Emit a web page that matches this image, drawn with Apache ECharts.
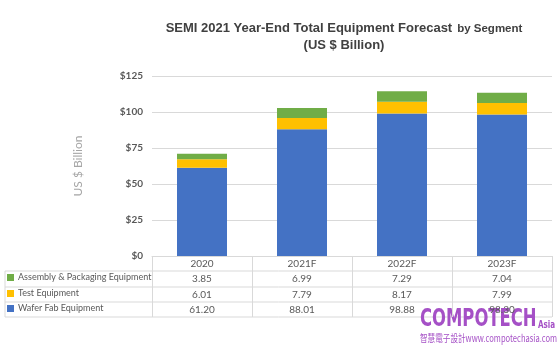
<!DOCTYPE html>
<html>
<head>
<meta charset="utf-8">
<script src="https://cdn.jsdelivr.net/npm/echarts@6/dist/echarts.min.js"></script>
<style>
  html, body { margin: 0; padding: 0; background: #fff; }
  #chart { width: 560px; height: 350px; }
</style>
</head>
<body>
<div id="chart"></div>
<script>
var years = ['2020', '2021F', '2022F', '2023F']
var assembly = [3.85, 6.99, 7.29, 7.04]
var test = [6.01, 7.79, 8.17, 7.99]
var wafer = [61.20, 88.01, 98.88, 98.30]
var names = ['Assembly & Packaging Equipment', 'Test Equipment', 'Wafer Fab Equipment']
var colors = ['#70AD47', '#FFC000', '#4472C4']

var lineColor = '#d9d9d9'
var txtColor = '#595959'
var font = 'Lato'

function fmt (arr) {
  var out = []
  for (var i in arr) {
    out.push(arr[i].toFixed(2))
  }
  return out
}

// one extra x axis per table row, under the main axis
function rowAxis (vals, off) {
  return {
    type: 'category',
    position: 'bottom',
    offset: off,
    data: fmt(vals),
    axisLine: { show: false },
    axisTick: { show: false },
    axisLabel: { color: txtColor, fontSize: 10, fontFamily: font, margin: 2 }
  }
}

function legendRow (name, top) {
  return {
    data: [name],
    left: 7,
    top: top,
    padding: 0,
    icon: 'rect',
    itemWidth: 7,
    itemHeight: 7,
    itemGap: 4,
    selectedMode: false,
    textStyle: { color: txtColor, fontSize: 9, fontFamily: font, padding: [0, 0, 0, -1] }
  }
}

function hline (y) {
  return { type: 'line', shape: { x1: 5, y1: y, x2: 552, y2: y }, style: { stroke: lineColor, lineWidth: 1 } }
}

var chart = echarts.init(document.getElementById('chart'))

var option = {
  animation: false,
  title: {
    text: '{a|SEMI 2021 Year-End Total Equipment Forecast} {b|by Segment}\n{a|(US $ Billion)}',
    left: 339,
    textAlign: 'center',
    top: 14,
    textStyle: {
      rich: {
        a: { fontSize: 13, fontWeight: 'bold', color: '#404040', fontFamily: 'Liberation Sans', lineHeight: 16 },
        b: { fontSize: 11.5, fontWeight: 'bold', color: '#404040', fontFamily: 'Liberation Sans', lineHeight: 16, padding: [2, 0, 0, 0] }
      }
    }
  },
  legend: [
    legendRow(names[0], 273),
    legendRow(names[1], 289),
    legendRow(names[2], 304)
  ],
  grid: { left: 152, right: 8, top: 76, bottom: 94 },
  xAxis: [
    {
      type: 'category',
      data: years,
      axisLine: { lineStyle: { color: lineColor } },
      axisTick: { show: true, length: 61, lineStyle: { color: lineColor } },
      axisLabel: { color: txtColor, fontSize: 10, fontFamily: font, margin: 3 }
    },
    rowAxis(assembly, 16),
    rowAxis(test, 32),
    rowAxis(wafer, 47)
  ],
  yAxis: {
    type: 'value',
    min: 0,
    max: 125,
    interval: 25,
    name: 'US $ Billion',
    nameLocation: 'middle',
    nameRotate: 90,
    nameGap: 68,
    nameTextStyle: { color: '#a6a6a6', fontSize: 12, fontFamily: 'Lato' },
    axisLine: { show: false },
    axisTick: { show: false },
    axisLabel: { color: txtColor, fontSize: 10, fontFamily: 'Lato', fontWeight: 'bold', margin: 9, formatter: '${value}' },
    splitLine: { lineStyle: { color: lineColor } }
  },
  series: [
    { name: names[2], type: 'bar', stack: 'eq', data: wafer, barWidth: '50%', itemStyle: { color: colors[2] } },
    { name: names[1], type: 'bar', stack: 'eq', data: test, itemStyle: { color: colors[1] } },
    { name: names[0], type: 'bar', stack: 'eq', data: assembly, itemStyle: { color: colors[0] } }
  ],
  graphic: [
    hline(271), hline(287), hline(302), hline(317),
    { type: 'line', shape: { x1: 5, y1: 271, x2: 5, y2: 317 }, style: { stroke: lineColor, lineWidth: 1 } },
    {
      type: 'group',
      left: 420,
      top: 307,
      z: 100,
      children: [
        { type: 'text', x: 0, y: 0, scaleX: 0.73, style: { text: 'COMPOTECH', font: 'bold 25px "DejaVu Sans Condensed"', fill: '#a550c6' } },
        { type: 'text', x: 118, y: 13, scaleX: 0.8, style: { text: 'Asia', font: 'bold 10px "DejaVu Sans Condensed"', fill: '#a550c6' } },
        { type: 'text', x: 0, y: 26, scaleX: 0.76, style: { text: '智慧電子設計www.compotechasia.com', font: '10px "Noto Sans CJK TC"', fill: '#a550c6' } }
      ]
    }
  ]
}

chart.setOption(option)
</script>
</body>
</html>
